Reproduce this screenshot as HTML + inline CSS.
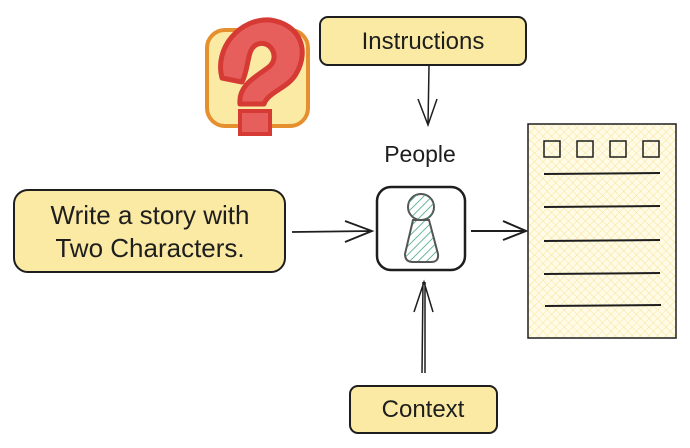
<!DOCTYPE html>
<html><head><meta charset="utf-8"><style>
html,body{margin:0;padding:0;background:#fff;}
svg{display:block}
text{font-family:"Liberation Sans",sans-serif;fill:#1e1e1e}
</style></head><body>
<svg width="690" height="448" viewBox="0 0 690 448" xmlns="http://www.w3.org/2000/svg">
<defs>
<pattern id="hatch" width="6" height="6" patternUnits="userSpaceOnUse" patternTransform="rotate(45)">
<line x1="0" y1="0" x2="0" y2="6" stroke="#2f9e75" stroke-width="1.5"/>
</pattern>
<pattern id="cross" width="6" height="6" patternUnits="userSpaceOnUse" patternTransform="rotate(45)">
<rect width="6" height="6" fill="#fffbe6"/>
<line x1="0" y1="0" x2="0" y2="6" stroke="#f7e39a" stroke-width="1"/>
<line x1="0" y1="0" x2="6" y2="0" stroke="#f7e39a" stroke-width="1"/>
</pattern>
</defs>
<!-- question icon -->
<rect x="207" y="30" width="101" height="96" rx="18" fill="#fbeaa3" stroke="#e68f2e" stroke-width="4"/>
<path d="M222 78 C 214 48, 240 18, 270 20 C 300 24, 310 50, 296 74 C 288 88, 268 92, 264 104 L 240 104 C 238 84, 258 76, 270 66 C 280 56, 270 40, 258 44 C 246 48, 250 66, 242 82 Z" fill="#e75f5c" stroke="#d63a35" stroke-width="5" stroke-linejoin="round"/>
<rect x="240" y="111" width="30" height="23" fill="#e75f5c" stroke="#d63a35" stroke-width="4"/>
<!-- instructions -->
<rect x="320" y="17" width="206" height="48" rx="8" fill="#fbeaa3" stroke="#1e1e1e" stroke-width="2"/>
<text x="423" y="49" font-size="24" text-anchor="middle">Instructions</text>
<!-- arrow down -->
<path d="M429 66 L428 125 M418 99 L428 125 L437 99" fill="none" stroke="#1e1e1e" stroke-width="1.5"/>
<text x="420" y="162" font-size="23" text-anchor="middle">People</text>
<!-- write box -->
<rect x="14" y="190" width="271" height="82" rx="14" fill="#fbeaa3" stroke="#1e1e1e" stroke-width="2"/>
<text x="150" y="224" font-size="26" text-anchor="middle">Write a story with</text>
<text x="150" y="257" font-size="26" text-anchor="middle">Two Characters.</text>
<!-- arrow left to people -->
<path d="M292 232 L372 231 M345 221 L372 231 L345 242" fill="none" stroke="#1e1e1e" stroke-width="1.8"/>
<!-- people box -->
<rect x="377" y="187" width="88" height="83" rx="14" fill="#fff" stroke="#1e1e1e" stroke-width="2.5"/>
<path d="M413 220 L405 254 Q405 262 413 262 L431 262 Q439 262 438 254 L429 220 Z" fill="url(#hatch)" stroke="#555" stroke-width="2"/>
<circle cx="421" cy="207" r="13" fill="#fff" stroke="#555" stroke-width="2"/>
<circle cx="421" cy="207" r="13" fill="url(#hatch)"/>
<!-- right arrow -->
<path d="M471 231 L526 231 M503 221 L526 231 L503 240" fill="none" stroke="#1e1e1e" stroke-width="2"/>
<!-- document -->
<rect x="528" y="124" width="148" height="214" fill="url(#cross)" stroke="#1e1e1e" stroke-width="1.5"/>
<g fill="none" stroke="#1e1e1e" stroke-width="1.5">
<rect x="544" y="141" width="16" height="16"/>
<rect x="577" y="141" width="16" height="16"/>
<rect x="610" y="141" width="16" height="16"/>
<rect x="643" y="141" width="16" height="16"/>
</g>
<g stroke="#1e1e1e" stroke-width="2">
<line x1="544" y1="174" x2="660" y2="173"/>
<line x1="544" y1="207" x2="660" y2="206"/>
<line x1="544" y1="241" x2="660" y2="240"/>
<line x1="544" y1="274" x2="660" y2="273"/>
<line x1="545" y1="306" x2="661" y2="305"/>
</g>
<!-- up arrow -->
<path d="M422 373 L423 282 M425 373 L425 282 M414 312 L424 282 L433 312" fill="none" stroke="#1e1e1e" stroke-width="1.5"/>
<!-- context -->
<rect x="350" y="386" width="147" height="47" rx="8" fill="#fbeaa3" stroke="#1e1e1e" stroke-width="2"/>
<text x="423" y="417" font-size="24" text-anchor="middle">Context</text>
</svg>
</body></html>
